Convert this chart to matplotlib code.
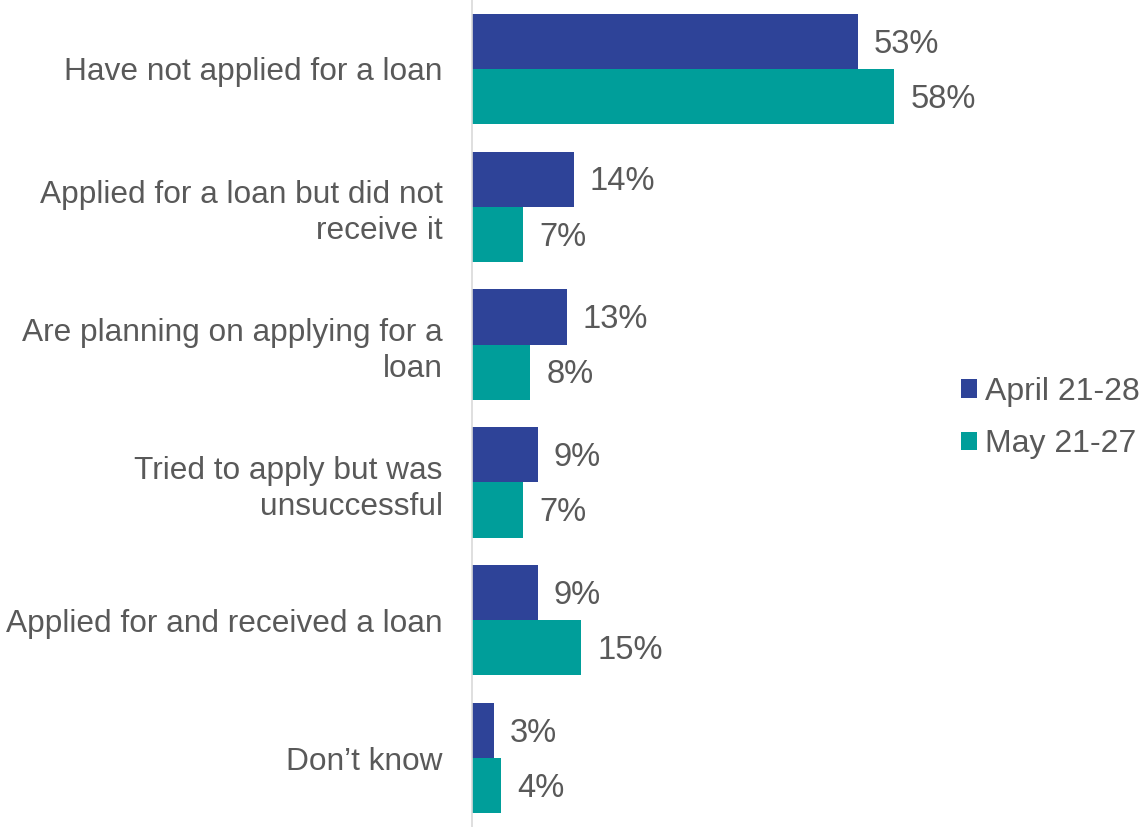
import matplotlib.pyplot as plt
import numpy as np

plt.rcParams['font.family'] = ['Liberation Sans', 'DejaVu Sans']

categories = ['Have not applied for a loan',
              'Applied for a loan but did not\nreceive it',
              'Are planning on applying for a\nloan',
              'Tried to apply but was\nunsuccessful',
              'Applied for and received a loan',
              'Don\u2019t know']
april = [53, 14, 13, 9, 9, 3]
may = [58, 7, 8, 7, 15, 4]
series_names = ['April 21-28', 'May 21-27']

BLUE = '#2E4398'
TEAL = '#009E9A'
GREY = '#595959'

fig = plt.figure(figsize=(11.4, 8.27), dpi=100)
ax = fig.add_axes([0.414, 0.0, 0.428, 1.0])

y = np.arange(len(categories))
h = 0.4
b1 = ax.barh(y - h / 2, april, height=h, color=BLUE, label=series_names[0])
b2 = ax.barh(y + h / 2, may, height=h, color=TEAL, label=series_names[1])

for bars in (b1, b2):
    for rect in bars:
        w = rect.get_width()
        ax.annotate('{:d}%'.format(int(w)), (w, rect.get_y() + rect.get_height() / 2),
                    xytext=(11.5, -2), textcoords='offset points',
                    va='center', ha='left', fontsize=23.5, color=GREY)

ax.set_xlim(0, 67)
ax.set_ylim(5.5, -0.5)
ax.set_yticks(y)
ax.set_yticklabels(categories, fontsize=22.8, color=GREY, linespacing=1.27)
ax.tick_params(axis='y', length=0, pad=21)
ax.set_xticks([])
for s in ['top', 'right', 'bottom']:
    ax.spines[s].set_visible(False)
ax.spines['left'].set_color('#D9D9D9')
ax.spines['left'].set_linewidth(1.2)

leg = fig.legend(loc='center left', bbox_to_anchor=(0.818, 0.4945), frameon=False,
                 fontsize=23, handlelength=0.5, handleheight=0.5, handletextpad=0.23,
                 labelspacing=0.7)
for t in leg.get_texts():
    t.set_color(GREY)

fig.savefig('out.png', dpi=100)
